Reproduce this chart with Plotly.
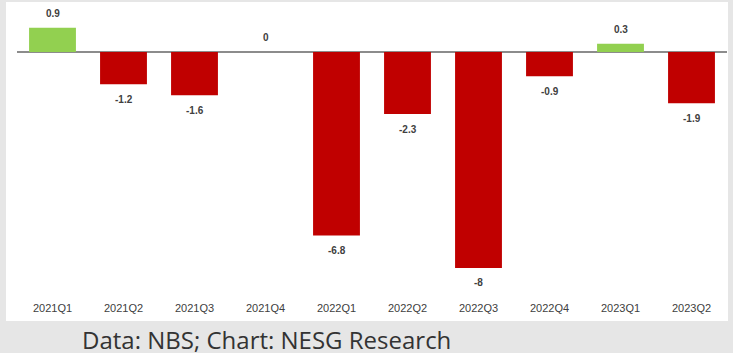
import plotly.graph_objects as go

quarters = ["2021Q1", "2021Q2", "2021Q3", "2021Q4", "2022Q1",
            "2022Q2", "2022Q3", "2022Q4", "2023Q1", "2023Q2"]
values = [0.9, -1.2, -1.6, 0, -6.8, -2.3, -8, -0.9, 0.3, -1.9]
labels = ["0.9", "-1.2", "-1.6", "0", "-6.8", "-2.3", "-8", "-0.9", "0.3", "-1.9"]
footer = "Data: NBS; Chart: NESG Research"

GREEN = "#92d050"
RED = "#c00000"
colors = [GREEN if v > 0 else RED for v in values]

W, H = 733, 353
L, R, T, B = 17, 6, 5, 53
pw = W - L - R
ph = H - T - B

fig = go.Figure()
fig.add_trace(go.Bar(
    x=quarters, y=values,
    marker=dict(color=colors, line=dict(width=0)),
    hoverinfo="x+y",
))

for q, v, t in zip(quarters, values, labels):
    fig.add_annotation(
        x=q, y=v, text=t, showarrow=False,
        yshift=14 if v >= 0 else -15,
        font=dict(family="Liberation Sans, Arial", size=10, color="#404040", weight="bold"),
    )

# white panel
fig.add_shape(
    type="rect", xref="paper", yref="paper", layer="below",
    x0=(6 - L) / pw, x1=(728 - L) / pw,
    y0=(ph + T - 321) / ph, y1=(ph + T - 2) / ph,
    fillcolor="white", line=dict(width=0),
)

fig.add_annotation(
    xref="paper", yref="paper", x=(80 - L) / pw, y=(ph + T - 339) / ph,
    xanchor="left", yanchor="middle", showarrow=False,
    text=footer,
    font=dict(family="Open Sans", size=24, color="#333333"),
)

fig.update_layout(
    width=W, height=H,
    margin=dict(l=L, r=R, t=T, b=B),
    paper_bgcolor="#e6e6e6",
    plot_bgcolor="rgba(0,0,0,0)",
    bargap=0.34,
    showlegend=False,
    xaxis=dict(
        showgrid=False, showline=False, ticks="", zeroline=False,
        tickfont=dict(family="Liberation Sans, Arial", size=11, color="#404040"),
    ),
    yaxis=dict(
        range=[-9.19, 1.74], showgrid=False, showticklabels=False,
        zeroline=True, zerolinecolor="#8c8c8c", zerolinewidth=1.5,
    ),
)

fig.write_html("out.html")
